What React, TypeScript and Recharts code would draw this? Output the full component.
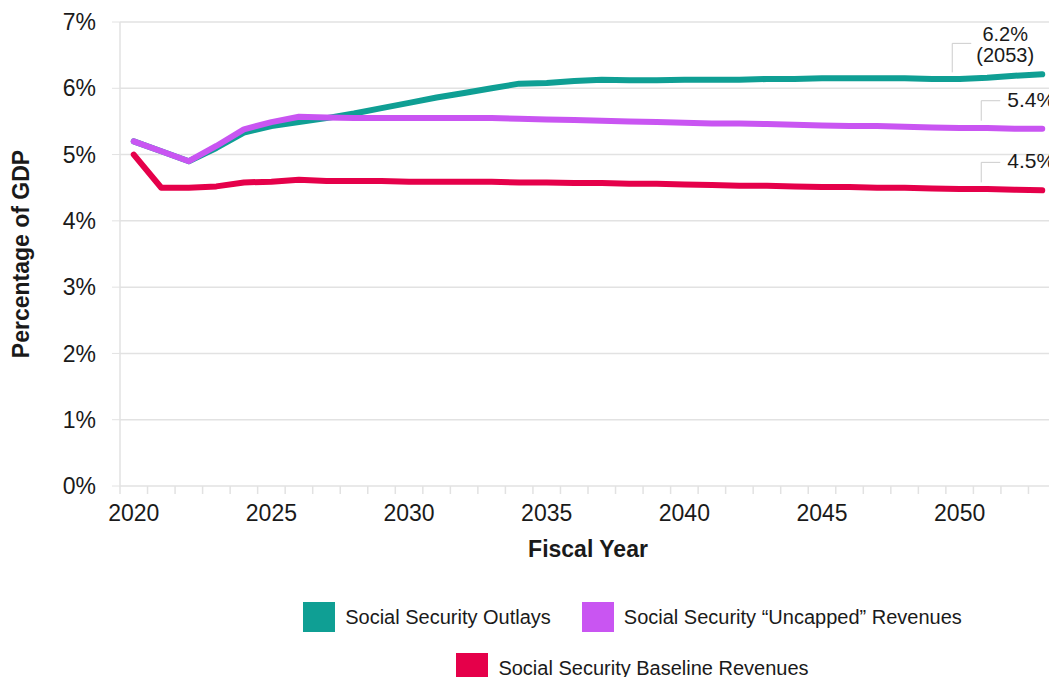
import {
  LineChart,
  Line,
  XAxis,
  YAxis,
  CartesianGrid,
  Legend,
  ReferenceLine,
  LabelList,
} from 'recharts'

const years = [
  2020, 2021, 2022, 2023, 2024, 2025, 2026, 2027, 2028, 2029, 2030, 2031, 2032, 2033, 2034, 2035, 2036,
  2037, 2038, 2039, 2040, 2041, 2042, 2043, 2044, 2045, 2046, 2047, 2048, 2049, 2050, 2051, 2052, 2053,
]

const outlays = [
  5.2, 5.05, 4.9, 5.1, 5.33, 5.43, 5.49, 5.55, 5.62, 5.7, 5.78, 5.86, 5.93, 6.0, 6.07, 6.08, 6.11,
  6.13, 6.12, 6.12, 6.13, 6.13, 6.13, 6.14, 6.14, 6.15, 6.15, 6.15, 6.15, 6.14, 6.14, 6.16, 6.19, 6.21,
]

const uncapped = [
  5.2, 5.05, 4.9, 5.13, 5.38, 5.49, 5.57, 5.56, 5.55, 5.55, 5.55, 5.55, 5.55, 5.55, 5.54, 5.53, 5.52,
  5.51, 5.5, 5.49, 5.48, 5.47, 5.47, 5.46, 5.45, 5.44, 5.43, 5.43, 5.42, 5.41, 5.4, 5.4, 5.39, 5.39,
]

const baseline = [
  5.0, 4.5, 4.5, 4.52, 4.58, 4.59, 4.62, 4.6, 4.6, 4.6, 4.59, 4.59, 4.59, 4.59, 4.58, 4.58, 4.57,
  4.57, 4.56, 4.56, 4.55, 4.54, 4.53, 4.53, 4.52, 4.51, 4.51, 4.5, 4.5, 4.49, 4.48, 4.48, 4.47, 4.46,
]

const yTicks = [0, 1, 2, 3, 4, 5, 6, 7]
const xLabelTicks = [2020, 2025, 2030, 2035, 2040, 2045, 2050]
// tick marks sit on the year boundaries
const xEdgeTicks = [...years.map((y) => y - 0.5), years[years.length - 1] + 0.5]

const seriesNames = {
  outlays: 'Social Security Outlays',
  uncapped: 'Social Security \u201cUncapped\u201d Revenues',
  baseline: 'Social Security Baseline Revenues',
}

const endNotes = {
  outlays: ['6.2%', '(2053)'],
  uncapped: ['5.4%'],
  baseline: ['4.5%'],
}

const COLORS = {
  outlays: '#0f9f94',
  uncapped: '#c955f2',
  baseline: '#e5004a',
}

const FONT = '"Liberation Sans", Arial, sans-serif'
const GRID = '#e2e2e2'

const data = years.map((year, i) => ({
  year,
  outlays: outlays[i],
  uncapped: uncapped[i],
  baseline: baseline[i],
}))

const lastIndex = years.length - 1

// leader + label at the right end of each line
function makeNote(lines: string[], tall: boolean) {
  return (props: any) => {
    const { x, y, index } = props
    if (index !== lastIndex) return null
    if (tall) {
      return (
        <g>
          <polyline
            points={`${x - 90},${y - 2} ${x - 90},${y - 31} ${x - 71},${y - 31}`}
            fill="none"
            stroke="#cccccc"
            strokeWidth={1}
          />
          <text x={x - 37} y={y - 33} textAnchor="middle" fontSize={20} fill="#1a1a1a" fontFamily={FONT}>
            {lines[0]}
          </text>
          <text x={x - 37} y={y - 12} textAnchor="middle" fontSize={20} fill="#1a1a1a" fontFamily={FONT}>
            {lines[1]}
          </text>
        </g>
      )
    }
    return (
      <g>
        <polyline
          points={`${x - 61},${y - 8} ${x - 61},${y - 28} ${x - 42},${y - 28}`}
          fill="none"
          stroke="#cccccc"
          strokeWidth={1}
        />
        <text x={x - 35} y={y - 22} fontSize={21} fill="#1a1a1a" fontFamily={FONT}>
          {lines[0]}
        </text>
      </g>
    )
  }
}

function LegendBox() {
  const item = (key: keyof typeof COLORS) => (
    <div style={{ display: 'flex', alignItems: 'center' }}>
      <div style={{ width: 32, height: 30, background: COLORS[key], marginRight: 10 }} />
      <span style={{ fontSize: 20, color: '#1a1a1a', fontFamily: FONT }}>{seriesNames[key]}</span>
    </div>
  )
  return (
    <div style={{ paddingLeft: 201, height: 80 }}>
      <div style={{ display: 'flex', justifyContent: 'center', gap: 31, paddingTop: 5 }}>
        {item('outlays')}
        {item('uncapped')}
      </div>
      <div style={{ display: 'flex', justifyContent: 'center', marginTop: 21 }}>{item('baseline')}</div>
    </div>
  )
}

export default function App() {
  return (
    <LineChart
      width={1049}
      height={669}
      data={data}
      margin={{ top: 14, right: 1, left: 0, bottom: 0 }}
      style={{ fontFamily: FONT }}
    >
      <CartesianGrid vertical={false} stroke={GRID} strokeWidth={1.5} />
      <XAxis
        xAxisId="edges"
        dataKey="year"
        type="number"
        domain={[2019.5, 2053.5]}
        ticks={xEdgeTicks}
        interval={0}
        tick={() => <g />}
        tickSize={8}
        tickLine={{ stroke: GRID, strokeWidth: 1.5 }}
        axisLine={false}
        height={1}
        allowDataOverflow
      />
      <XAxis
        xAxisId="main"
        dataKey="year"
        type="number"
        domain={[2019.5, 2053.5]}
        ticks={xLabelTicks}
        interval={0}
        tickLine={false}
        axisLine={false}
        tickSize={7}
        tickMargin={11}
        tick={{ fontSize: 23, fill: '#1a1a1a' }}
        height={110}
        allowDataOverflow
        label={(props: any) => {
          const vb = props.viewBox
          return (
            <text
              x={vb.x + vb.width / 2}
              y={vb.y + 70}
              textAnchor="middle"
              fontSize={23}
              fontWeight="bold"
              fill="#1a1a1a"
              fontFamily={FONT}
            >
              Fiscal Year
            </text>
          )
        }}
      />
      <YAxis
        domain={[0, 7]}
        ticks={yTicks}
        interval={0}
        width={112}
        tickFormatter={(v) => `${v}%`}
        tick={{ fontSize: 23, fill: '#1a1a1a' }}
        tickSize={8}
        tickMargin={16}
        tickLine={{ stroke: GRID }}
        axisLine={{ stroke: GRID, strokeWidth: 1.5 }}
        label={(props: any) => {
          const vb = props.viewBox
          const cx = 13
          const cy = vb.y + vb.height / 2
          return (
            <text
              x={cx}
              y={cy}
              textAnchor="middle"
              dominantBaseline="central"
              transform={`rotate(-90 ${cx} ${cy})`}
              fontSize={23}
              fontWeight="bold"
              fill="#1a1a1a"
              fontFamily={FONT}
            >
              Percentage of GDP
            </text>
          )
        }}
      />
      <ReferenceLine xAxisId="main" x={2053.5} stroke={GRID} strokeWidth={1.5} />
      <Legend verticalAlign="bottom" content={() => <LegendBox />} />
      <Line
        xAxisId="main"
        dataKey="outlays"
        name={seriesNames.outlays}
        stroke={COLORS.outlays}
        strokeWidth={6}
        strokeLinecap="round"
        strokeLinejoin="round"
        dot={false}
        activeDot={false}
        isAnimationActive={false}
      >
        <LabelList dataKey="outlays" content={makeNote(endNotes.outlays, true)} />
      </Line>
      <Line
        xAxisId="main"
        dataKey="uncapped"
        name={seriesNames.uncapped}
        stroke={COLORS.uncapped}
        strokeWidth={6}
        strokeLinecap="round"
        strokeLinejoin="round"
        dot={false}
        activeDot={false}
        isAnimationActive={false}
      >
        <LabelList dataKey="uncapped" content={makeNote(endNotes.uncapped, false)} />
      </Line>
      <Line
        xAxisId="main"
        dataKey="baseline"
        name={seriesNames.baseline}
        stroke={COLORS.baseline}
        strokeWidth={6}
        strokeLinecap="round"
        strokeLinejoin="round"
        dot={false}
        activeDot={false}
        isAnimationActive={false}
      >
        <LabelList dataKey="baseline" content={makeNote(endNotes.baseline, false)} />
      </Line>
    </LineChart>
  )
}
